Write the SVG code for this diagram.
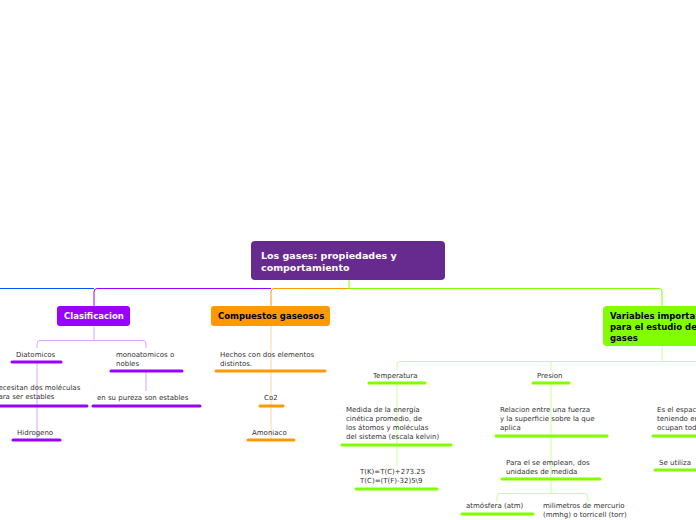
<svg xmlns="http://www.w3.org/2000/svg" width="696" height="520" viewBox="0 0 696 520">
<style>
text{font-family:"DejaVu Sans","Liberation Sans",sans-serif;font-size:7px;fill:#333}
.t{font-size:9.5px;font-weight:bold}
.w{fill:#fff}.k{fill:#000}
.u{stroke-width:3;stroke-linecap:round;fill:none}
.p{stroke:#9900ff}.o{stroke:#ff9900}.g{stroke:#80ff00}
.c{fill:none;stroke-width:1}
</style>
<rect width="696" height="520" fill="#fff"/>
<g id="connectors">
<path class="c" d="M0 288.5H94" stroke="#0055ff"/>
<path class="c" d="M94 306V292q0-3.5 3-3.5H271" stroke="#9900ff"/>
<path class="c" d="M271 306V292q0-3.5 3-3.5H349" stroke="#ff9900"/>
<path class="c" d="M349 280V288.5H659q3 0 3 3.5V306" stroke="#80ff00"/>
<path class="c" d="M94 326V340M37 348v-4q0-3.5 3-3.5H143q3 0 3 3.5v4" stroke="#d9a6ff"/>
<path class="c" d="M37 362V406M37 406V440M146 371V391" stroke="#d9a6ff"/>
<path class="c" d="M271 326V371M271 371V406M271 406V440" stroke="#ffd9a0"/>
<path class="c" d="M662 346V361.5M397 370v-5q0-3.5 3-3.5H700M551 361.5V370" stroke="#c8ff99"/>
<path class="c" d="M397 383V445M397 445V466M551 383V436M551 436V479M551 479V494M497 502v-5q0-3.5 3-3.5H585q3 0 3 3.5v5" stroke="#c8ff99"/>
</g>
<g id="root"><rect x="251" y="241" width="194" height="39" rx="4" fill="#672b8f"/><text class="t w" x="261" y="259">Los gases: propiedades y</text><text class="t w" x="261" y="271">comportamiento</text></g>
<g id="clasificacion"><rect x="57" y="306" width="73" height="20" rx="3" fill="#9900ff"/><text class="t w" x="64" y="319" style="font-size:8.5px">Clasificacion</text></g>
<g id="compuestos"><rect x="211" y="306" width="119" height="20" rx="3" fill="#ff9900"/><text class="t k" x="218" y="319" style="font-size:8.5px">Compuestos gaseosos</text></g>
<g id="variables"><rect x="603" y="306" width="110" height="40" rx="4" fill="#80ff00"/><text class="t k" style="font-size:8.5px" x="610" y="319">Variables importantes</text><text class="t k" style="font-size:8.5px" x="610" y="330">para el estudio de los</text><text class="t k" style="font-size:8.5px" x="610" y="341">gases</text></g>
<g id="diatomicos"><text x="16" y="357">Diatomicos</text><path class="u p" d="M12 362H61"/></g>
<g id="monoatomicos"><text x="116" y="357">monoatomicos o</text><text x="116" y="366">nobles</text><path class="u p" d="M111 371H182"/></g>
<g id="necesitan"><text x="-6" y="390">necesitan dos moléculas</text><text x="-6" y="399">para ser estables</text><path class="u p" d="M0 406H87"/></g>
<g id="pureza"><text x="97" y="400">en su pureza son estables</text><path class="u p" d="M93 406H200"/></g>
<g id="hidrogeno"><text x="17" y="435">Hidrogeno</text><path class="u p" d="M13 440H60"/></g>
<g id="hechos"><text x="220" y="357">Hechos con dos elementos</text><text x="220" y="366">distintos.</text><path class="u o" d="M216 371H325"/></g>
<g id="co2"><text x="264" y="400">Co2</text><path class="u o" d="M260 406H283"/></g>
<g id="amoniaco"><text x="252" y="435">Amoniaco</text><path class="u o" d="M248 440H294"/></g>
<g id="temperatura"><text x="373" y="378">Temperatura</text><path class="u g" d="M369 383H425"/></g>
<g id="presion"><text x="537" y="378">Presion</text><path class="u g" d="M533 383H569"/></g>
<g id="medida"><text x="346" y="412">Medida de la energía</text><text x="346" y="421">cinética promedio, de</text><text x="346" y="430">los átomos y moléculas</text><text x="346" y="439">del sistema (escala kelvin)</text><path class="u g" d="M342 445H451"/></g>
<g id="formula"><text x="360" y="474">T(K)=T(C)+273.25</text><text x="360" y="483">T(C)=(T(F)-32)5\9</text><path class="u g" d="M356 489H437"/></g>
<g id="relacion"><text x="500" y="412">Relacion entre una fuerza</text><text x="500" y="421">y la superficie sobre la que</text><text x="500" y="430">aplica</text><path class="u g" d="M496 436H607"/></g>
<g id="unidades"><text x="506" y="465">Para el se emplean, dos</text><text x="506" y="474">unidades de medida</text><path class="u g" d="M502 479H600"/></g>
<g id="atm"><text x="466" y="508">atmósfera (atm)</text><path class="u g" d="M462 514H533"/></g>
<g id="mmhg"><text x="543" y="508">milimetros de mercurio</text><text x="543" y="517">(mmhg) o torricell (torr)</text></g>
<g id="espacio"><text x="657" y="412">Es el espacio</text><text x="657" y="421">teniendo en</text><text x="657" y="430">ocupan todo</text><path class="u g" d="M653 436H700"/></g>
<g id="utiliza"><text x="659" y="465">Se utiliza</text><path class="u g" d="M655 470H700"/></g>
</svg>
